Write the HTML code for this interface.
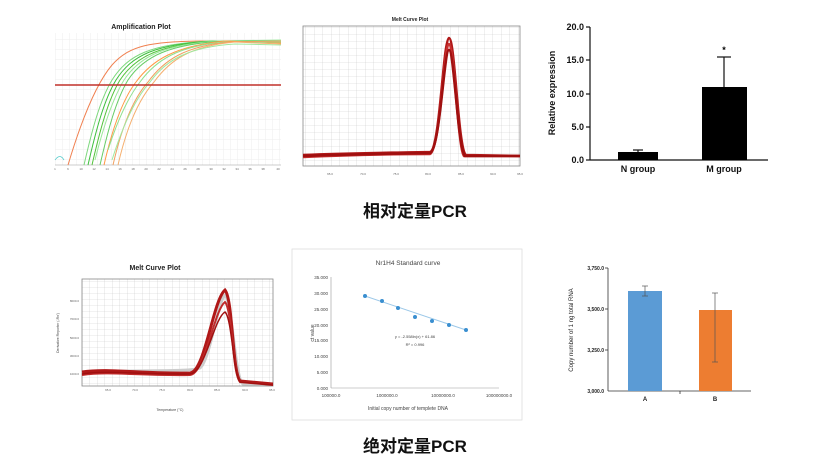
<!DOCTYPE html>
<html><head><meta charset="utf-8"><style>
body{margin:0;background:#fff;width:831px;height:464px;overflow:hidden}
svg{display:block}
text{font-family:"Liberation Sans",sans-serif}
</style></head><body>
<svg width="831" height="464" viewBox="0 0 831 464">
<defs>
<pattern id="g1" width="7" height="10" patternUnits="userSpaceOnUse"><path d="M7 0V10M0 10H7" stroke="#eee" stroke-width="1" fill="none"/></pattern>
<pattern id="g2" width="8.5" height="7" patternUnits="userSpaceOnUse"><path d="M8.5 0V7M0 7H8.5" stroke="#ccc" stroke-width="0.6" fill="none"/></pattern>
<pattern id="g3" width="7.5" height="6" patternUnits="userSpaceOnUse"><path d="M7.5 0V6M0 6H7.5" stroke="#ccc" stroke-width="0.6" fill="none"/></pattern>
</defs>
<!-- Amplification -->
<text x="141" y="29" font-size="7" font-weight="bold" text-anchor="middle" fill="#222">Amplification Plot</text>
<rect x="55" y="33" width="226" height="132" fill="url(#g1)"/>
<line x1="55" y1="165" x2="281" y2="165" stroke="#999" stroke-width="0.5"/>
<g fill="none" stroke-width="1">
<path d="M68 165 C80 125 95 85 112 65 C130 45 150 42 200 41 L281 41" stroke="#f08050"/>
<path d="M84 165 C92 130 100 100 112 80 C128 55 150 44 210 41 L281 41" stroke="#7dd87d"/>
<path d="M88 165 C96 130 104 100 116 80 C132 55 155 44 215 41 L281 42" stroke="#3cbf3c"/>
<path d="M92 165 C100 130 108 100 120 80 C136 56 160 44 220 41 L281 41" stroke="#52c23a"/>
<path d="M95 160 C103 128 112 100 124 80 C140 56 165 44 220 41 L281 40" stroke="#9be89b"/>
<path d="M100 165 C108 130 116 100 128 80 C144 56 170 44 225 41 L281 41" stroke="#66cc66"/>
<path d="M104 165 C112 130 122 100 136 82 C152 60 175 46 225 41 L281 43" stroke="#ff9944"/>
<path d="M108 150 C116 125 126 100 140 82 C156 60 178 46 225 42 L281 42" stroke="#8fe08f"/>
<path d="M113 165 C121 130 132 100 148 82 C164 60 185 46 230 42 L281 41" stroke="#f0a060"/>
<path d="M118 165 C126 130 138 100 154 82 C170 60 190 46 235 42 L281 44" stroke="#f5b070"/>
<path d="M112 160 C122 128 134 100 150 82 C166 60 188 47 235 44 L281 45" stroke="#a0e8a0"/>
</g>
<path d="M55 160 Q60 153 64 160" stroke="#5cc" fill="none" stroke-width="0.8"/>
<line x1="55" y1="85" x2="281" y2="85" stroke="#c0302a" stroke-width="1.5"/>
<g font-size="3" fill="#666" text-anchor="middle"><text x="55" y="170">1</text><text x="68" y="170">6</text><text x="81" y="170">10</text><text x="94" y="170">12</text><text x="107" y="170">14</text><text x="120" y="170">16</text><text x="133" y="170">18</text><text x="146" y="170">20</text><text x="159" y="170">22</text><text x="172" y="170">24</text><text x="185" y="170">26</text><text x="198" y="170">28</text><text x="211" y="170">30</text><text x="224" y="170">32</text><text x="237" y="170">34</text><text x="250" y="170">36</text><text x="263" y="170">38</text><text x="278" y="170">40</text></g>
<!-- Melt top -->
<text x="410" y="21" font-size="5" font-weight="bold" text-anchor="middle" fill="#222">Melt Curve Plot</text>
<rect x="303" y="26" width="217" height="140" fill="url(#g2)" stroke="#888" stroke-width="0.8"/>
<g fill="none" stroke="#b01818" stroke-width="2.5">
<path d="M303 155 C350 153 380 153 430 152 C440 150 443 40 449 38 C455 38 458 150 466 155 L520 156"/>
<path d="M303 157 C350 155 380 154 430 154 C440 150 444 45 449 44 C454 45 458 150 464 156 L520 156" stroke="#c83030"/>
<path d="M303 156 C350 154 380 154 430 153 C440 150 444 50 449 50 C454 50 458 150 465 156 L520 156" stroke="#a01010"/>
</g>
<g font-size="3" fill="#666" text-anchor="middle"><text x="330" y="175">65.0</text><text x="363" y="175">70.0</text><text x="396" y="175">75.0</text><text x="428" y="175">80.0</text><text x="461" y="175">85.0</text><text x="493" y="175">90.0</text><text x="520" y="175">95.0</text></g>
<!-- Bar top -->
<g font-size="9" font-weight="bold" fill="#111" text-anchor="end">
<text x="584" y="30">20.0</text><text x="584" y="63">15.0</text><text x="584" y="97">10.0</text><text x="584" y="130">5.0</text><text x="584" y="163">0.0</text></g>
<g stroke="#111" stroke-width="1.2"><line x1="590" y1="27" x2="590" y2="160"/><line x1="590" y1="160" x2="768" y2="160"/>
<line x1="586" y1="27" x2="590" y2="27"/><line x1="586" y1="60" x2="590" y2="60"/><line x1="586" y1="94" x2="590" y2="94"/><line x1="586" y1="127" x2="590" y2="127"/><line x1="586" y1="160" x2="590" y2="160"/>
<line x1="638" y1="150" x2="638" y2="152"/><line x1="633" y1="150" x2="643" y2="150"/>
<line x1="724" y1="57" x2="724" y2="87"/><line x1="717" y1="57" x2="731" y2="57"/></g>
<rect x="618" y="152" width="40" height="8" fill="#000"/>
<rect x="702" y="87" width="45" height="73" fill="#000"/>
<text x="724" y="53" font-size="9" font-weight="bold" text-anchor="middle">*</text>
<g font-size="9" font-weight="bold" fill="#111" text-anchor="middle"><text x="638" y="172">N group</text><text x="724" y="172">M group</text></g>
<text transform="translate(555,93) rotate(-90)" font-size="9" font-weight="bold" text-anchor="middle" fill="#111">Relative expression</text>
<text x="415" y="217" font-size="17" font-weight="bold" text-anchor="middle" fill="#111" style='font-family:"Liberation Sans","Noto Sans CJK SC",sans-serif'>相对定量PCR</text>
<!-- Melt bottom -->
<text x="155" y="270" font-size="7" font-weight="bold" text-anchor="middle" fill="#222">Melt Curve Plot</text>
<rect x="82" y="279" width="191" height="107" fill="url(#g3)" stroke="#888" stroke-width="0.8"/>
<path d="M82 372 C150 370 190 372 200 368 C210 360 218 300 225 295 C232 300 235 380 243 384 L273 384" fill="none" stroke="#ccc" stroke-width="3"/>
<g fill="none" stroke="#b01818" stroke-width="3">
<path d="M82 372 C110 368 140 374 190 373 C205 372 213 300 225 290 C233 300 232 370 240 381 L273 384"/>
<path d="M82 375 C110 371 140 376 190 375 C205 374 214 310 225 302 C232 310 233 372 240 382 L273 385" stroke="#c02a2a" stroke-width="2"/>
<path d="M82 374 C110 370 140 375 190 374 C205 373 214 318 225 312 C232 318 233 372 240 382 L273 385" stroke="#a01010" stroke-width="1.5"/>
</g>
<g font-size="3" fill="#666" text-anchor="end"><text x="79" y="302">8000.0</text><text x="79" y="320">7000.0</text><text x="79" y="339">5000.0</text><text x="79" y="357">3000.0</text><text x="79" y="375">1000.0</text></g>
<g font-size="3" fill="#666" text-anchor="middle"><text x="108" y="391">65.0</text><text x="135" y="391">70.0</text><text x="162" y="391">75.0</text><text x="190" y="391">80.0</text><text x="217" y="391">85.0</text><text x="245" y="391">90.0</text><text x="272" y="391">95.0</text></g>
<text x="170" y="411" font-size="3.5" fill="#444" text-anchor="middle">Temperature (°C)</text>
<text transform="translate(59,333) rotate(-90)" font-size="3.5" fill="#444" text-anchor="middle">Derivative Reporter (-Rn')</text>
<!-- Std curve -->
<rect x="292" y="249" width="230" height="171" fill="#fff" stroke="#ddd" stroke-width="0.8"/>
<text x="408" y="265" font-size="6.5" fill="#444" text-anchor="middle">Nr1H4 Standard curve</text>
<g stroke="#999" stroke-width="0.6"><line x1="331" y1="277" x2="331" y2="388"/><line x1="331" y1="388" x2="499" y2="388"/></g>
<g font-size="4.5" fill="#444" text-anchor="end"><text x="328" y="279">35.000</text><text x="328" y="295">30.000</text><text x="328" y="311">25.000</text><text x="328" y="327">20.000</text><text x="328" y="342">15.000</text><text x="328" y="358">10.000</text><text x="328" y="374">5.000</text><text x="328" y="390">0.000</text></g>
<g font-size="4.5" fill="#444" text-anchor="middle"><text x="331" y="397">100000.0</text><text x="387" y="397">1000000.0</text><text x="443" y="397">10000000.0</text><text x="499" y="397">100000000.0</text></g>
<text transform="translate(314,333) rotate(-90)" font-size="5" fill="#444" text-anchor="middle">ct value</text>
<text x="408" y="410" font-size="5" fill="#444" text-anchor="middle">Initial copy number  of templete DNA</text>
<line x1="365" y1="296" x2="466" y2="330" stroke="#9cc8e8" stroke-width="1"/>
<g fill="#3a8fd0"><circle cx="365" cy="296" r="2"/><circle cx="382" cy="301" r="2"/><circle cx="398" cy="308" r="2"/><circle cx="415" cy="317" r="2"/><circle cx="432" cy="321" r="2"/><circle cx="449" cy="325" r="2"/><circle cx="466" cy="330" r="2"/></g>
<text x="415" y="338" font-size="4" fill="#444" text-anchor="middle">y = -2.558ln(x) + 61.86</text>
<text x="415" y="346" font-size="4" fill="#444" text-anchor="middle">R² = 0.996</text>
<!-- Bar bottom -->
<g font-size="5" font-weight="bold" fill="#222" text-anchor="end"><text x="604" y="270">3,750.0</text><text x="604" y="311">3,500.0</text><text x="604" y="352">3,250.0</text><text x="604" y="393">3,000.0</text></g>
<g stroke="#333" stroke-width="0.8"><line x1="608" y1="268" x2="608" y2="391"/><line x1="608" y1="391" x2="751" y2="391"/>
<line x1="605" y1="268" x2="608" y2="268"/><line x1="605" y1="309" x2="608" y2="309"/><line x1="605" y1="350" x2="608" y2="350"/><line x1="680" y1="391" x2="680" y2="394"/></g>
<rect x="628" y="291" width="34" height="100" fill="#5b9bd5"/>
<rect x="699" y="310" width="33" height="81" fill="#ed7d31"/>
<g stroke="#555" stroke-width="0.7"><line x1="645" y1="286" x2="645" y2="296"/><line x1="642" y1="286" x2="648" y2="286"/><line x1="642" y1="296" x2="648" y2="296"/>
<line x1="715" y1="293" x2="715" y2="362"/><line x1="712" y1="293" x2="718" y2="293"/><line x1="712" y1="362" x2="718" y2="362"/></g>
<g font-size="6" font-weight="bold" fill="#222" text-anchor="middle"><text x="645" y="401">A</text><text x="715" y="401">B</text></g>
<text transform="translate(573,330) rotate(-90)" font-size="6" fill="#222" text-anchor="middle">Copy number of 1 ng total RNA</text>
<text x="415" y="452" font-size="17" font-weight="bold" text-anchor="middle" fill="#111" style='font-family:"Liberation Sans","Noto Sans CJK SC",sans-serif'>绝对定量PCR</text>
</svg>
</body></html>
